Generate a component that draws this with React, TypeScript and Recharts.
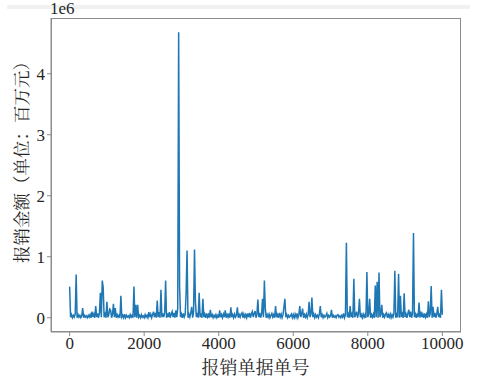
import { LineChart, Line, XAxis, YAxis } from 'recharts';

// reimbursement amounts (unit: 1e6), one value per 25 document numbers, 0..10000
const amounts: number[] = [
  0.51, 0.01, 0.05, 0.00, 0.04, 0.01, 0.06, 0.71, 0.00, 0.05, 0.01, 0.04, 0.00, 0.03, 0.16, 0.00, 0.04, 0.01, 0.03, 0.00,
  0.04, 0.01, 0.05, 0.00, 0.10, 0.01, 0.06, 0.00, 0.19, 0.01, 0.07, 0.00, 0.08, 0.41, 0.01, 0.61, 0.50, 0.01, 0.06, 0.00,
  0.26, 0.01, 0.05, 0.14, 0.12, 0.00, 0.06, 0.23, 0.01, 0.16, 0.00, 0.05, 0.01, 0.04, 0.00, 0.36, 0.01, 0.04, 0.00, 0.06,
  0.00, 0.04, 0.01, 0.03, 0.00, 0.05, 0.01, 0.04, 0.00, 0.51, 0.01, 0.21, 0.00, 0.21, 0.01, 0.04, 0.00, 0.05, 0.01, 0.03,
  0.00, 0.05, 0.01, 0.04, 0.00, 0.09, 0.01, 0.06, 0.00, 0.05, 0.10, 0.01, 0.08, 0.00, 0.28, 0.01, 0.09, 0.00, 0.46, 0.01,
  0.07, 0.01, 0.08, 0.61, 0.00, 0.07, 0.01, 0.09, 0.00, 0.06, 0.10, 0.01, 0.08, 0.00, 0.12, 0.01, 0.15, 4.68, 0.51, 0.01,
  0.06, 0.00, 0.07, 0.01, 0.05, 0.41, 1.10, 0.00, 0.06, 0.01, 0.08, 0.18, 0.00, 0.09, 1.12, 0.26, 0.01, 0.08, 0.00, 0.41,
  0.01, 0.07, 0.00, 0.31, 0.01, 0.06, 0.00, 0.07, 0.01, 0.05, 0.00, 0.13, 0.01, 0.05, 0.00, 0.04, 0.01, 0.05, 0.00, 0.04,
  0.00, 0.12, 0.01, 0.05, 0.00, 0.06, 0.01, 0.12, 0.00, 0.05, 0.01, 0.07, 0.00, 0.17, 0.01, 0.05, 0.00, 0.06, 0.01, 0.04,
  0.17, 0.00, 0.05, 0.01, 0.06, 0.08, 0.00, 0.06, 0.01, 0.05, 0.00, 0.07, 0.01, 0.08, 0.00, 0.06, 0.10, 0.01, 0.07, 0.11,
  0.00, 0.06, 0.30, 0.01, 0.08, 0.00, 0.06, 0.31, 0.01, 0.61, 0.15, 0.00, 0.05, 0.01, 0.06, 0.00, 0.04, 0.07, 0.01, 0.05,
  0.00, 0.19, 0.01, 0.05, 0.00, 0.08, 0.01, 0.06, 0.00, 0.05, 0.18, 0.31, 0.01, 0.05, 0.00, 0.04, 0.01, 0.03, 0.06, 0.00,
  0.05, 0.00, 0.06, 0.01, 0.07, 0.00, 0.05, 0.19, 0.01, 0.06, 0.15, 0.00, 0.05, 0.01, 0.06, 0.00, 0.05, 0.26, 0.01, 0.06,
  0.33, 0.01, 0.06, 0.00, 0.05, 0.01, 0.04, 0.00, 0.06, 0.19, 0.01, 0.05, 0.00, 0.04, 0.01, 0.03, 0.07, 0.00, 0.04, 0.01,
  0.03, 0.13, 0.00, 0.04, 0.01, 0.03, 0.00, 0.04, 0.05, 0.01, 0.03, 0.00, 0.04, 0.01, 0.07, 0.00, 0.05, 1.23, 0.01, 0.06,
  0.00, 0.19, 0.01, 0.06, 0.00, 0.64, 0.01, 0.05, 0.10, 0.00, 0.07, 0.31, 0.01, 0.05, 0.00, 0.06, 0.01, 0.05, 0.00, 0.75,
  0.01, 0.06, 0.31, 0.00, 0.05, 0.01, 0.06, 0.00, 0.53, 0.01, 0.59, 0.00, 0.74, 0.01, 0.06, 0.21, 0.00, 0.05, 0.01, 0.06,
  0.08, 0.00, 0.05, 0.01, 0.06, 0.00, 0.05, 0.01, 0.06, 0.77, 0.00, 0.05, 0.01, 0.72, 0.00, 0.36, 0.01, 0.06, 0.00, 0.40,
  0.01, 0.06, 0.00, 0.07, 0.13, 0.01, 0.10, 0.00, 0.07, 1.39, 0.01, 0.06, 0.00, 0.07, 0.01, 0.25, 0.00, 0.10, 0.01, 0.06,
  0.00, 0.07, 0.01, 0.06, 0.00, 0.27, 0.01, 0.07, 0.52, 0.00, 0.18, 0.01, 0.08, 0.00, 0.06, 0.18, 0.01, 0.07, 0.00, 0.46,
  0.05,
];
const idStep = 25;
const xTicks = [0, 2000, 4000, 6000, 8000, 10000];
const yTicks = [0, 1, 2, 3, 4];

const chartData = amounts.map((v, i) => ({ id: i * idStep, amount: v }));

const FONT = '"Liberation Serif", "Noto Serif CJK SC", monospace';
const SPINE = '#8c8c8c';
const TEXT = '#262626';

export default function App() {
  const tick = { fontSize: 17, fill: TEXT, fontFamily: FONT };
  return (
    <div style={{ position: 'absolute', left: 0, top: 0, width: 485, height: 386, background: '#fff', fontFamily: FONT }}>
      <div style={{ position: 'absolute', left: 7, top: 5, width: 463, height: 4, background: '#f1f1f1' }} />
      <LineChart width={485} height={386} data={chartData} margin={{ top: 18, right: 24, bottom: 0, left: 0 }}>
        <XAxis
          dataKey="id"
          type="number"
          domain={[-500, 10500]}
          ticks={xTicks}
          allowDataOverflow
          height={54}
          tick={tick}
          tickSize={4}
          tickMargin={1}
          stroke={SPINE}
          interval={0}
        />
        <YAxis
          type="number"
          domain={[-0.234, 4.914]}
          ticks={yTicks}
          allowDataOverflow
          width={51}
          tick={tick}
          tickSize={4}
          tickMargin={2}
          stroke={SPINE}
          interval={0}
        />
        <Line
          type="linear"
          dataKey="amount"
          stroke="#1f77b4"
          strokeWidth={1.5}
          dot={false}
          isAnimationActive={false}
        />
      </LineChart>
      <div style={{ position: 'absolute', left: 50.5, top: 17.5, width: 410.5, height: 314.5, boxSizing: 'border-box', border: `1px solid ${SPINE}`, pointerEvents: 'none' }} />
      <div style={{ position: 'absolute', left: 50, top: 0, fontSize: 17, lineHeight: '17px', color: TEXT }}>1e6</div>
      <div style={{ position: 'absolute', left: 0, width: 511, top: 358, textAlign: 'center', fontSize: 18, lineHeight: '20px', color: TEXT }}>
        报销单据单号
      </div>
      <div
        style={{
          position: 'absolute', left: 21.5, top: 158, width: 240, marginLeft: -120, marginTop: -10,
          textAlign: 'center', transform: 'rotate(-90deg)', fontSize: 17.5, lineHeight: '20px', color: TEXT, whiteSpace: 'nowrap',
        }}
      >
        报销金额（单位：百万元）
      </div>
    </div>
  );
}
